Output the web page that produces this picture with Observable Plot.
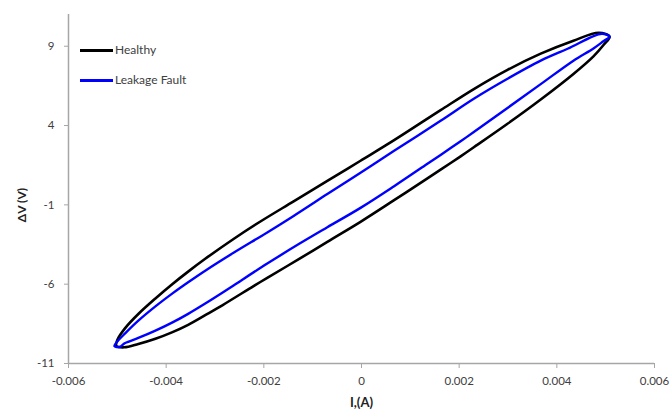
<!DOCTYPE html>
<html>
<head>
<meta charset="utf-8">
<script src="https://cdn.jsdelivr.net/npm/d3@7"></script>
<script src="https://cdn.jsdelivr.net/npm/@observablehq/plot@0.6"></script>
<style>
  html, body { margin: 0; padding: 0; background: #fff; }
  #wrap { position: relative; width: 670px; height: 414px; font-family: Lato, "Open Sans", sans-serif; }
  #legend { position: absolute; left: 80px; top: 42px; font-size: 12px; color: #404040; }
  .item { position: absolute; left: 0; white-space: nowrap; height: 16px; line-height: 16px; }
  .swatch { display: inline-block; width: 33px; height: 3px; vertical-align: middle; margin-right: 2px; }
  #ylab { position: absolute; left: 22px; top: 205px; transform: translate(-50%, -50%) rotate(-90deg);
          font-weight: bold; font-size: 12px; color: #222; white-space: nowrap; line-height: 14px; }
</style>
</head>
<body>
<div id="wrap"><div id="legend"></div><div id="ylab"></div></div>
<script>
// Series names and colours
const seriesNames = ["Healthy", "Leakage Fault"];
const seriesColors = ["#000000", "#0000ff"];

// Healthy loop: current (A) and voltage difference (V), traced around the loop
const healthyI = [0.00508, 0.00486, 0.00434, 0.00367, 0.00299, 0.00230, 0.00162, 0.00066, -0.00002, -0.00070, -0.00139,
  -0.00207, -0.00262, -0.00320, -0.00355, -0.00387, -0.00422, -0.00457, -0.00484, -0.00500, -0.00502, -0.00486,
  -0.00457, -0.00422, -0.00387, -0.00355, -0.00320, -0.00285, -0.00221, -0.00193, -0.00125, -0.00070, -0.00002,
  0.00066, 0.00135, 0.00162, 0.00203, 0.00230, 0.00299, 0.00367, 0.00434, 0.00475, 0.00496];
const healthyV = [9.60, 9.85, 9.35, 8.53, 7.51, 6.30, 4.97, 3.06, 1.78, 0.51, -0.78,
  -2.05, -3.15, -4.40, -5.21, -5.99, -6.90, -7.88, -8.77, -9.52, -9.90, -9.98,
  -9.77, -9.44, -9.02, -8.56, -7.95, -7.33, -6.12, -5.60, -4.36, -3.33, -2.07,
  -0.72, 0.67, 1.22, 2.06, 2.63, 4.11, 5.64, 7.25, 8.36, 9.09];

// Leakage-fault loop
const leakI = [0.00508, 0.00492, 0.00422, 0.00367, 0.00299, 0.00230, 0.00162, 0.00066, -0.00002, -0.00070, -0.00139,
  -0.00193, -0.00262, -0.00320, -0.00355, -0.00387, -0.00422, -0.00457, -0.00484, -0.00500, -0.00506, -0.00496,
  -0.00484, -0.00457, -0.00422, -0.00387, -0.00355, -0.00320, -0.00285, -0.00262, -0.00193, -0.00125, -0.00070,
  -0.00002, 0.00066, 0.00135, 0.00162, 0.00203, 0.00230, 0.00299, 0.00367, 0.00434, 0.00475, 0.00496];
const leakV = [9.60, 9.79, 8.84, 8.09, 6.95, 5.69, 4.30, 2.39, 1.03, -0.32, -1.70,
  -2.74, -4.02, -5.15, -5.88, -6.58, -7.40, -8.30, -9.10, -9.62, -9.90, -9.96,
  -9.71, -9.39, -8.93, -8.41, -7.87, -7.22, -6.54, -6.08, -4.70, -3.41, -2.41,
  -1.19, 0.16, 1.59, 2.15, 3.01, 3.59, 5.11, 6.61, 8.09, 8.86, 9.33];

// Axis ticks
const xTicks = [-0.006, -0.004, -0.002, 0, 0.002, 0.004, 0.006];
const yTicks = [-11, -6, -1, 4, 9];
const xLabel = "I,(A)";
const yLabel = "ΔV (V)";

const healthy = healthyI.map((x, i) => ({x, y: healthyV[i]}));
const leak = leakI.map((x, i) => ({x, y: leakV[i]}));

const chart = Plot.plot({
  width: 670,
  height: 414,
  marginLeft: 68,
  marginRight: 16,
  marginTop: 14,
  marginBottom: 51,
  style: {fontFamily: "Lato, 'Open Sans', sans-serif", fontSize: "11.5px", color: "#404040", background: "#fff"},
  x: {domain: [-0.006, 0.006]},
  y: {domain: [-11, 11]},
  marks: [
    Plot.ruleX([-0.006], {stroke: "#a6a6a6", strokeWidth: 1.5}),
    Plot.ruleY([-11], {stroke: "#a6a6a6", strokeWidth: 1.5}),
    Plot.axisX({ticks: xTicks, tickFormat: d => String(d), tickSize: 5, tickPadding: 8, stroke: "#a6a6a6", fill: "#404040", label: null}),
    Plot.axisY({ticks: yTicks, tickFormat: d => String(d), tickSize: 4, tickPadding: 10, stroke: "#a6a6a6", fill: "#404040", label: null}),
    Plot.line(healthy, {x: "x", y: "y", stroke: seriesColors[0], strokeWidth: 2.6, curve: "catmull-rom-closed"}),
    Plot.line(leak, {x: "x", y: "y", stroke: seriesColors[1], strokeWidth: 2.4, curve: "catmull-rom-closed"}),
    Plot.text([xLabel], {frameAnchor: "bottom", dy: 43, fontWeight: "bold", fontSize: 13, fill: "#222"})
  ]
});
document.getElementById("wrap").prepend(chart);
document.getElementById("ylab").textContent = yLabel;

const legend = document.getElementById("legend");
seriesNames.forEach((name, i) => {
  const div = document.createElement("div");
  div.className = "item";
  div.style.top = (i * 30) + "px";
  div.innerHTML = `<span class="swatch" style="background:${seriesColors[i]}"></span>${name}`;
  legend.appendChild(div);
});
</script>
</body>
</html>
